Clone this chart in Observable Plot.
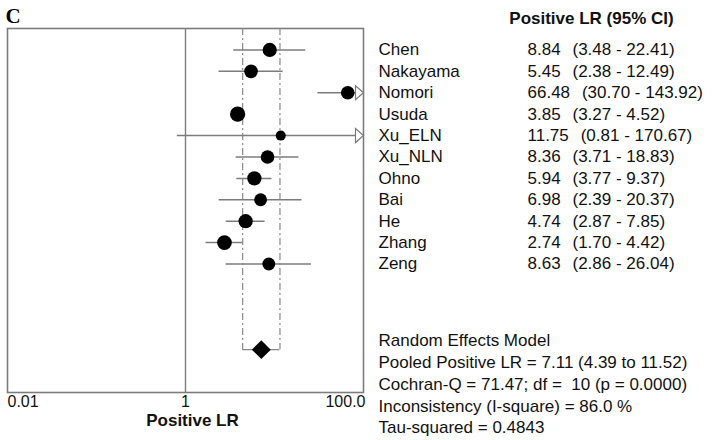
<!DOCTYPE html>
<html>
<head>
<meta charset="utf-8">
<script src="https://cdn.jsdelivr.net/npm/d3@7"></script>
<script src="https://cdn.jsdelivr.net/npm/@observablehq/plot@0.6"></script>
<style>
  html, body { margin: 0; padding: 0; background: #fff; }
  svg { display: block; }
</style>
</head>
<body>
<div id="chart"></div>
<script>
// ---- data ----
const names = ["Chen","Nakayama","Nomori","Usuda","Xu_ELN","Xu_NLN","Ohno","Bai","He","Zhang","Zeng"];
const lrValues = [8.84, 5.45, 66.48, 3.85, 11.75, 8.36, 5.94, 6.98, 4.74, 2.74, 8.63];
const ciLower = [3.48, 2.38, 30.70, 3.27, 0.81, 3.71, 3.77, 2.39, 2.87, 1.70, 2.86];
const ciUpper = [22.41, 12.49, 143.92, 4.52, 170.67, 18.83, 9.37, 20.37, 7.85, 4.42, 26.04];
const weights = [9.9, 9.1, 9.1, 11.3, 5.0, 9.1, 9.9, 8.1, 9.9, 10.7, 8.1]; // estimated study weights (%)
const pooled = 7.11;
const pooledLower = 4.39;
const pooledUpper = 11.52;
const cochranQ = 71.47;
const df = 10;
const pValue = "0.0000";
const iSquare = "86.0";
const tauSquared = "0.4843";
const xTicks = [0.01, 1, 100];
const xTickLabels = ["0.01", "1", "100.0"];
const headerText = "Positive LR (95% CI)";
const axisTitle = "Positive LR";
const panelLabel = "C";

// ---- derived ----
const xDomain = [0.01, 100];
const yDomain = [-1, 16];
const pooledRow = 14;
const studies = names.map((name, i) => ({
  name, row: i, lr: lrValues[i], lo: ciLower[i], hi: ciUpper[i], w: weights[i]
}));
const overflow = studies.filter(d => d.hi > xDomain[1]);
const statsLines = [
  "Random Effects Model",
  `Pooled Positive LR = ${pooled.toFixed(2)} (${pooledLower.toFixed(2)} to ${pooledUpper.toFixed(2)})`,
  `Cochran-Q = ${cochranQ.toFixed(2)}; df =\u00a0 ${df} (p = ${pValue})`,
  `Inconsistency (I-square) = ${iSquare} %`,
  `Tau-squared = ${tauSquared}`
];
const arrowSymbol = {
  draw(ctx) {
    ctx.moveTo(-8, -7);
    ctx.lineTo(0, 0);
    ctx.lineTo(-8, 7);
    ctx.closePath();
  }
};

const gray = "#7c7c7c";
const textColor = "#111";

const chart = Plot.plot({
  width: 718,
  height: 440,
  marginLeft: 7,
  marginRight: 355,
  marginTop: 28,
  marginBottom: 48,
  style: { fontFamily: "'Liberation Sans', Arial, sans-serif", background: "#fff", color: textColor },
  x: { type: "log", domain: xDomain, axis: null },
  y: { domain: yDomain, reverse: true, axis: null },
  r: { type: "sqrt", domain: [0, d3.max(weights)], range: [0, 7.6] },
  marks: [
    Plot.frame({ stroke: gray, strokeWidth: 1.6 }),
    Plot.ruleX([1], { stroke: gray, strokeWidth: 1.4 }),
    // pooled CI dashed guides
    Plot.ruleX([pooledLower, pooledUpper], {
      x: d => d, y1: () => yDomain[0], y2: () => pooledRow,
      stroke: "#8a8a8a", strokeWidth: 1.2, strokeDasharray: "7,3,2,3"
    }),
    Plot.ruleY([pooledRow], { y: d => d, x1: () => pooledLower, x2: () => pooledUpper, stroke: "#8a8a8a", strokeWidth: 1.2 }),
    // study CIs
    Plot.ruleY(studies, {
      y: "row", x1: d => Math.max(d.lo, xDomain[0]), x2: d => Math.min(d.hi, xDomain[1]),
      stroke: gray, strokeWidth: 1.5
    }),
    Plot.dot(overflow, { x: () => xDomain[1], y: "row", symbol: arrowSymbol, r: 7, fill: "white", stroke: gray, strokeWidth: 1.2 }),
    Plot.dot(studies, { x: "lr", y: "row", r: "w", fill: "black" }),
    Plot.dot([pooled], { x: d => d, y: () => pooledRow, symbol: "diamond2", r: 8.5, fill: "black" }),
    // x tick labels
    Plot.text([0], { x: i => xTicks[i], text: i => xTickLabels[i], frameAnchor: "bottom", lineAnchor: "middle", dy: 9, textAnchor: "start", fontSize: 16, fill: textColor }),
    Plot.text([1], { x: i => xTicks[i], text: i => xTickLabels[i], frameAnchor: "bottom", lineAnchor: "middle", dy: 9, textAnchor: "middle", fontSize: 16, fill: textColor }),
    Plot.text([2], { x: i => xTicks[i], text: i => xTickLabels[i], frameAnchor: "bottom", lineAnchor: "middle", dy: 9, dx: 2, textAnchor: "end", fontSize: 16, fill: textColor }),
    Plot.text([axisTitle], { text: d => d, frameAnchor: "bottom", lineAnchor: "middle", textAnchor: "middle", dx: 7, dy: 28, fontSize: 17, fontWeight: "bold", fill: textColor }),
    // panel label
    Plot.text([panelLabel], { text: d => d, frameAnchor: "top-left", lineAnchor: "middle", dx: -2, dy: -12, textAnchor: "start", fontFamily: "'Liberation Serif', 'Times New Roman', serif", fontWeight: "bold", fontSize: 21, fill: "black" }),
    // right table
    Plot.text([headerText], { text: d => d, frameAnchor: "top-right", lineAnchor: "middle", textAnchor: "middle", dx: 228, dy: -9.5, fontSize: 17, fontWeight: "bold", fill: textColor }),
    Plot.text(studies, { y: "row", text: "name", frameAnchor: "right", lineAnchor: "middle", dx: 15, textAnchor: "start", fontSize: 17, fill: textColor }),
    Plot.text(studies, {
      y: "row",
      text: d => `${d.lr.toFixed(2)}\u2002\u2009(${d.lo.toFixed(2)} - ${d.hi.toFixed(2)})`,
      frameAnchor: "right", lineAnchor: "middle", dx: 164, textAnchor: "start", fontSize: 17, fill: textColor
    }),
    Plot.text([statsLines.join("\n")], {
      text: d => d, frameAnchor: "bottom-right", lineAnchor: "middle", dx: 15, dy: -9.5, textAnchor: "start",
      lineHeight: 1.28, fontSize: 17, fill: textColor
    })
  ]
});
document.getElementById("chart").appendChild(chart);
</script>
</body>
</html>
